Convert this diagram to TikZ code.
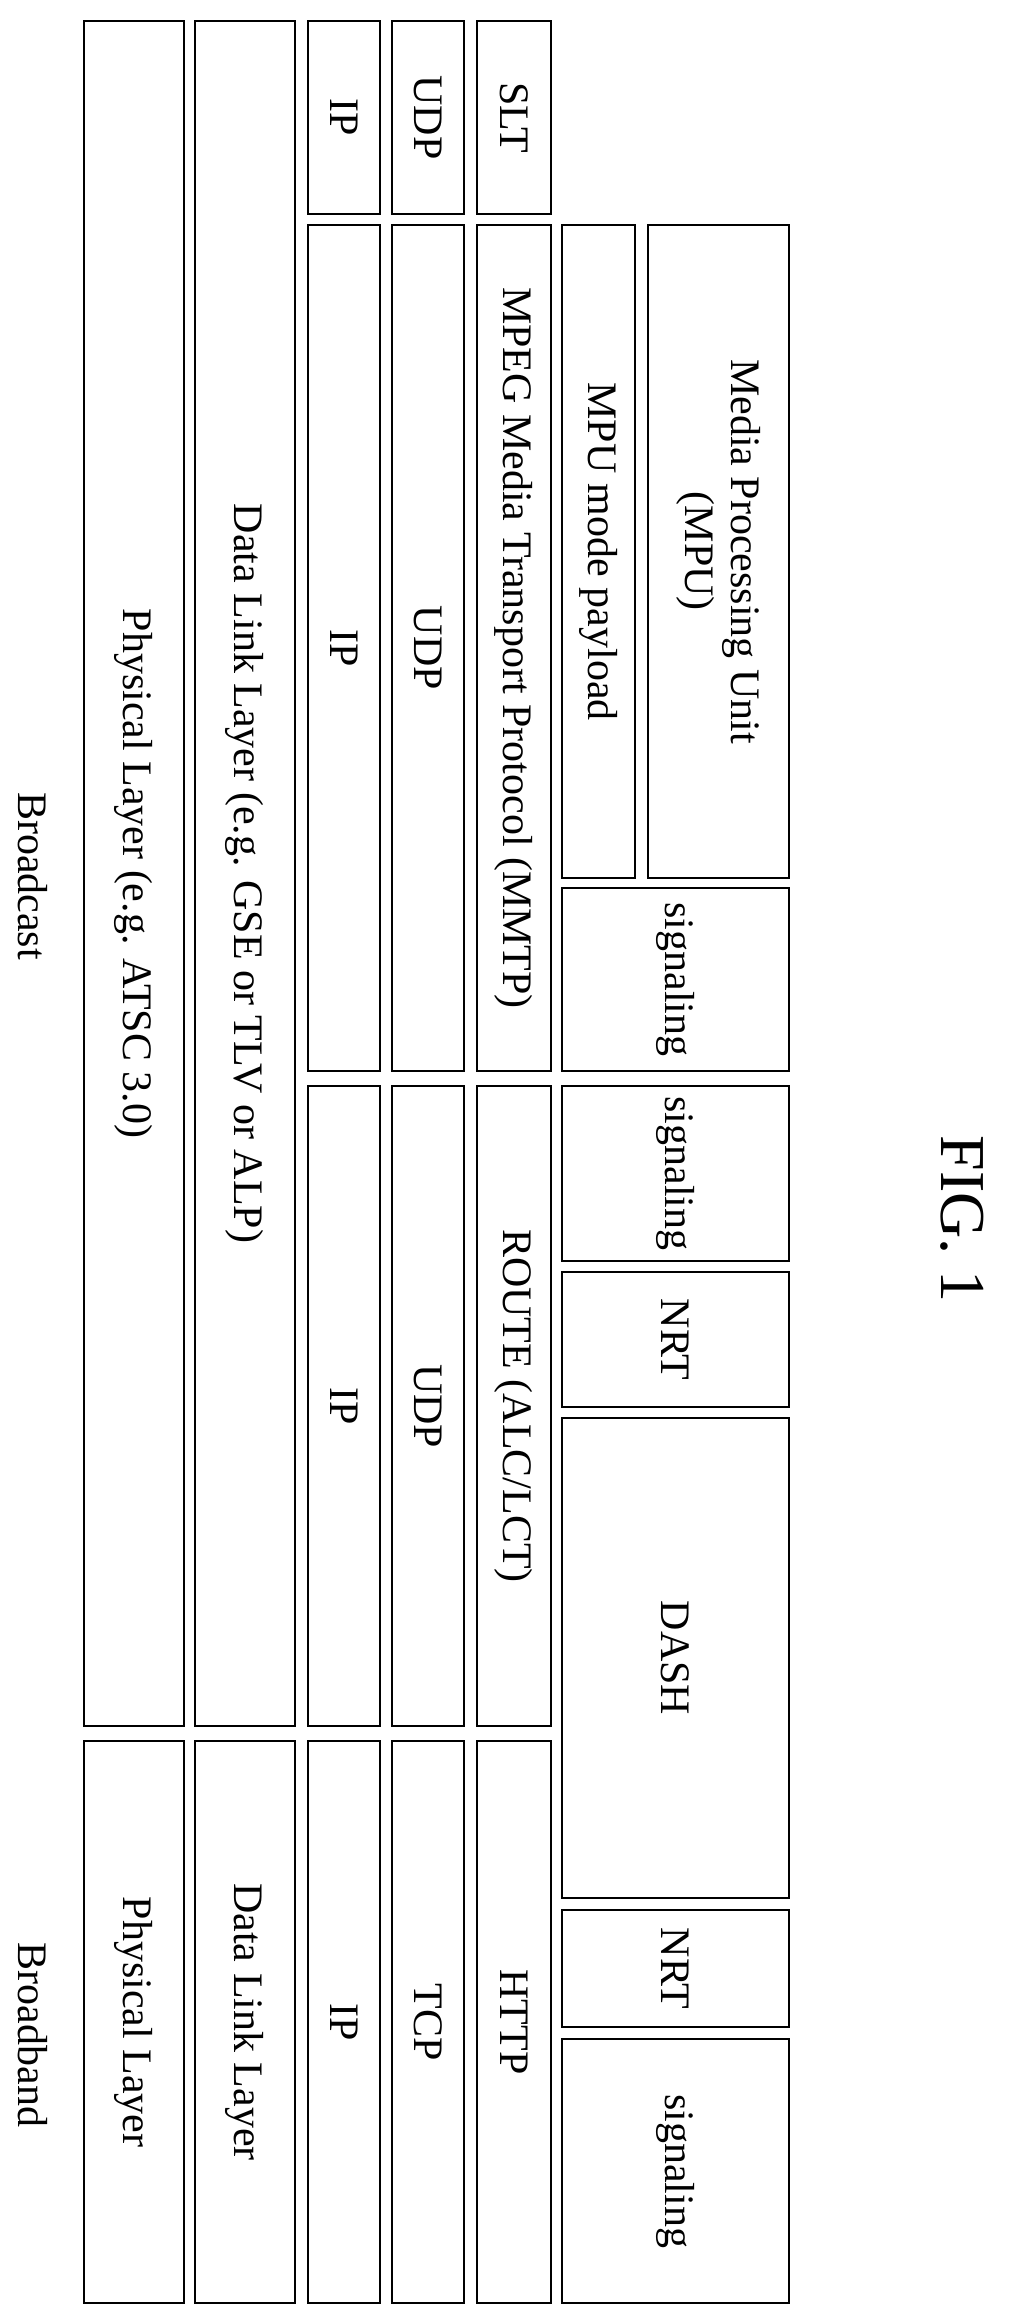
\documentclass[tikz,border=0pt]{standalone}
\usepackage{fontspec}
\setmainfont{Liberation Serif}
\begin{document}
\begin{tikzpicture}[x=1pt,y=-1pt,
  lay/.style={draw,line width=2.5pt,rotate=-90,inner sep=0pt,align=center,font=\fontsize{42}{46}\selectfont}]
\useasboundingbox (0,0) rectangle (1012,2320);
\newcommand\bx[6]{\node[lay,minimum width={#5-#3},minimum height={#4-#2}] (#1) at ({(#2+#4)/2},{(#3+#5)/2}) {#6};}
% broadcast
\bx{phyB}{84}{21}{184}{1726}{Physical Layer (e.g. ATSC 3.0)}
\bx{dllB}{195}{21}{295}{1726}{Data Link Layer (e.g. GSE or TLV or ALP)}
\bx{ipS}{308}{21}{380}{214}{IP}
\bx{udpS}{392}{21}{464}{214}{UDP}
\bx{slt}{477}{21}{551}{214}{SLT}
\bx{ipM}{308}{225}{380}{1071}{IP}
\bx{udpM}{392}{225}{464}{1071}{UDP}
\bx{mmtp}{477}{225}{551}{1071}{MPEG Media Transport Protocol (MMTP)}
\bx{mpumode}{562}{225}{635}{878}{MPU mode payload}
\bx{mpu}{648}{225}{789}{878}{Media Processing Unit\\(MPU)}
\bx{sigM}{562}{888}{789}{1071}{signaling}
\bx{ipR}{308}{1086}{380}{1726}{IP}
\bx{udpR}{392}{1086}{464}{1726}{UDP}
\bx{route}{477}{1086}{551}{1726}{ROUTE (ALC/LCT)}
\bx{sigR}{562}{1086}{789}{1261}{signaling}
\bx{nrtR}{562}{1272}{789}{1407}{NRT}
\bx{dash}{562}{1418}{789}{1898}{DASH}
% broadband
\bx{phyBB}{84}{1741}{184}{2303}{Physical Layer}
\bx{dllBB}{195}{1741}{295}{2303}{Data Link Layer}
\bx{ipBB}{308}{1741}{380}{2303}{IP}
\bx{tcp}{392}{1741}{464}{2303}{TCP}
\bx{http}{477}{1741}{551}{2303}{HTTP}
\bx{nrtBB}{562}{1910}{789}{2027}{NRT}
\bx{sigBB}{562}{2039}{789}{2303}{signaling}
\node[rotate=-90,font=\fontsize{42}{46}\selectfont] (bc) at (33,876) {Broadcast};
\node[rotate=-90,font=\fontsize{42}{46}\selectfont] (bb) at (33,2035) {Broadband};
\node[rotate=-90,font=\fontsize{64}{70}\selectfont] (fig) at (962,1219) {FIG. 1};
\end{tikzpicture}
\end{document}
